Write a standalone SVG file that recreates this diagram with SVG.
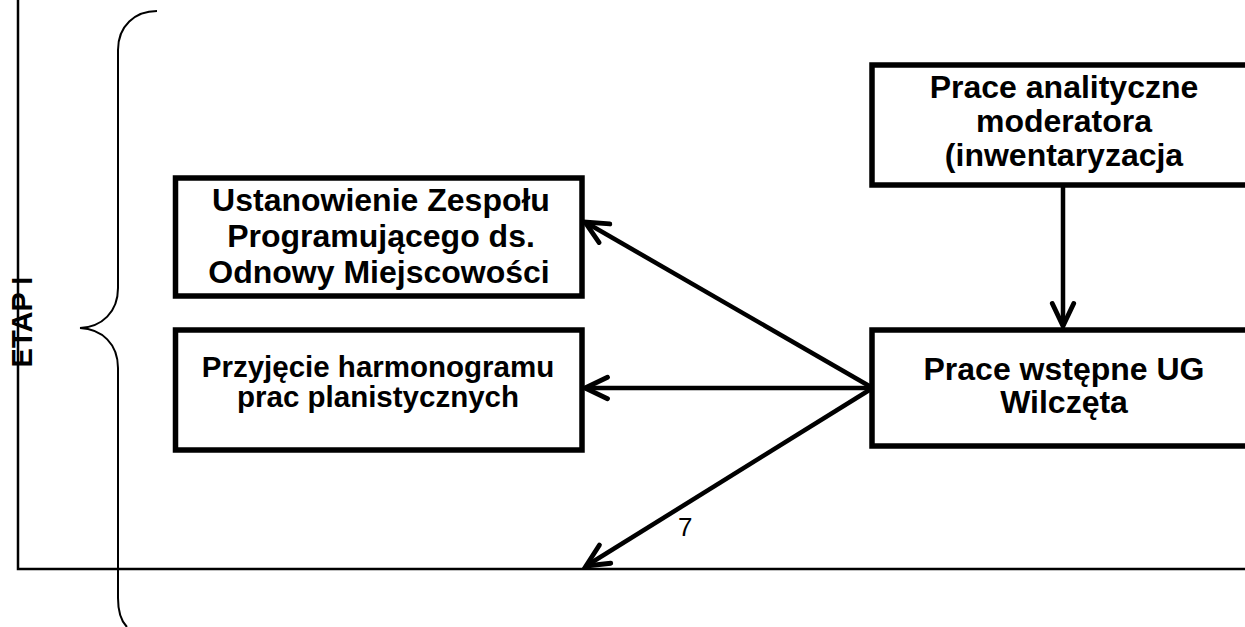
<svg xmlns="http://www.w3.org/2000/svg" width="1245" height="627" viewBox="0 0 1245 627">
<style>
.box{fill:#fff;stroke:#000;stroke-width:5.5}
.t{font-family:"Liberation Sans",Arial,sans-serif;font-weight:bold;fill:#000;text-anchor:middle}
.con{stroke:#000;stroke-width:4.5;fill:none}
.frame{stroke:#000;stroke-width:2.5;fill:none}
</style>
<defs>
<marker id="ah" markerUnits="userSpaceOnUse" markerWidth="30" markerHeight="30" viewBox="-24 -12 28 24" refX="0" refY="0" orient="auto">
<path d="M-21,-10 L0,0 L-21,10" fill="none" stroke="#000" stroke-width="4.5" stroke-linecap="round" stroke-linejoin="miter"/>
</marker>
</defs>
<rect width="1245" height="627" fill="#fff"/>
<g id="frame">
<path class="frame" d="M18,0 L18,569 L1245,569"/>
<path d="M157,11 C135,11 118,26 118,50 L118,288 C118,312 102,327 80,328 C102,329 118,344 118,368 L118,598 C118,612 121,621 127,627" fill="none" stroke="#000" stroke-width="2"/>
<text class="t" font-size="29" transform="translate(32,322) rotate(-90)">ETAP I</text>
</g>
<g id="connectors">
<line class="con" x1="1063" y1="187" x2="1063" y2="326" marker-end="url(#ah)"/>
<line class="con" x1="871" y1="387" x2="585" y2="222" marker-end="url(#ah)"/>
<line class="con" x1="871" y1="388" x2="585" y2="388" marker-end="url(#ah)"/>
<line class="con" x1="871" y1="389" x2="586" y2="566" marker-end="url(#ah)"/>
<text x="678" y="536" font-family="'Liberation Sans',Arial,sans-serif" font-size="26" fill="#000">7</text>
</g>
<g id="node-analityczne">
<rect class="box" x="872" y="65" width="400" height="120"/>
<text class="t" font-size="32"><tspan x="1064" y="98">Prace analityczne</tspan><tspan x="1064" y="132">moderatora</tspan><tspan x="1064" y="166">(inwentaryzacja</tspan></text>
</g>
<g id="node-wstepne">
<rect class="box" x="872" y="330" width="400" height="116"/>
<text class="t" font-size="32"><tspan x="1064" y="380">Prace wstępne UG</tspan><tspan x="1064" y="413">Wilczęta</tspan></text>
</g>
<g id="node-zespol">
<rect class="box" x="175.5" y="178" width="406.5" height="118"/>
<text class="t" font-size="32"><tspan x="381" y="211">Ustanowienie Zespołu</tspan><tspan x="381" y="247">Programującego ds.</tspan><tspan x="379" y="283">Odnowy Miejscowości</tspan></text>
</g>
<g id="node-harmonogram">
<rect class="box" x="175.5" y="330" width="406.5" height="120"/>
<text class="t" font-size="29.5"><tspan x="378" y="377">Przyjęcie harmonogramu</tspan><tspan x="378" y="407">prac planistycznych</tspan></text>
</g>
</svg>
